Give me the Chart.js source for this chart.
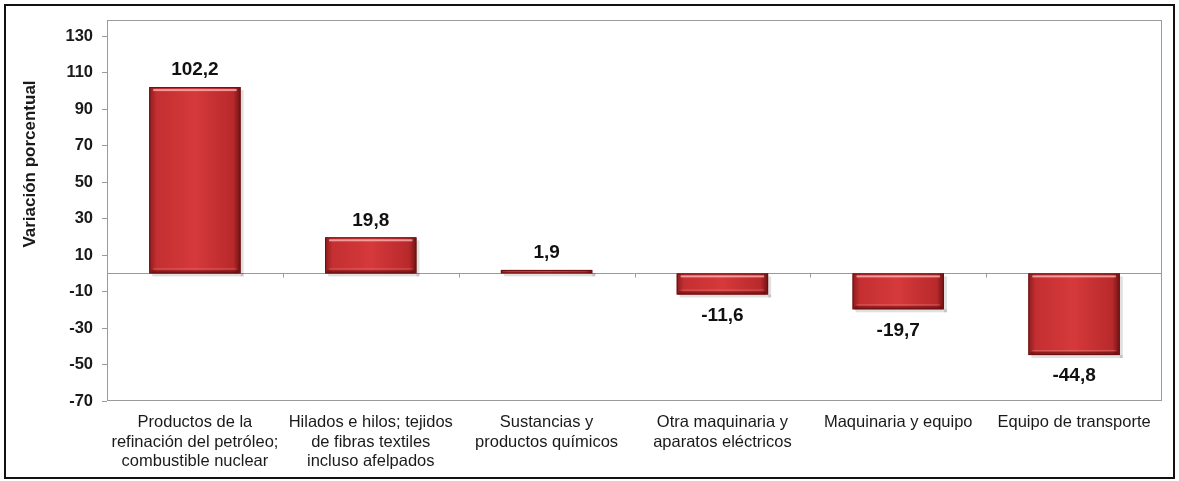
<!DOCTYPE html>
<html>
<head>
<meta charset="utf-8">
<script src="https://cdn.jsdelivr.net/npm/chart.js@4.4.0/dist/chart.umd.min.js"></script>
<style>
  html, body { margin:0; padding:0; background:#fff; }
  #wrap { position:relative; width:1179px; height:481px; }
  #frame { position:absolute; left:4px; top:4px; width:1167px; height:471px; border:2px solid #111; pointer-events:none; }
</style>
</head>
<body>
<div id="wrap">
  <canvas id="chart" width="1179" height="481"></canvas>
  <div id="frame"></div>
</div>
<script>
// Data
const categories = [
  ['Productos de la', 'refinación del petróleo;', 'combustible nuclear'],
  ['Hilados e hilos; tejidos', 'de fibras textiles', 'incluso afelpados'],
  ['Sustancias y', 'productos químicos'],
  ['Otra maquinaria y', 'aparatos eléctricos'],
  ['Maquinaria y equipo'],
  ['Equipo de transporte']
];
const values = [102.2, 19.8, 1.9, -11.6, -19.7, -44.8];
const yTicks = [-70, -50, -30, -10, 10, 30, 50, 70, 90, 110, 130];
const yTitle = 'Variación porcentual';

const fmt = v => v.toFixed(1).replace('.', ',');
const FONT = "'Liberation Sans', Arial, sans-serif";

// plot frame, zero line with category ticks, y title
const framePlugin = {
  id: 'frame',
  afterDatasetsDraw(chart) {
    const {ctx, chartArea:a, scales:{x, y}} = chart;
    ctx.save();
    ctx.strokeStyle = '#9a9a9a';
    ctx.lineWidth = 1;
    ctx.strokeRect(a.left + 0.5, a.top + 0.5, a.right - a.left - 1, a.bottom - a.top - 1);
    const y0 = Math.round(y.getPixelForValue(0)) + 0.5;
    ctx.beginPath();
    ctx.moveTo(a.left, y0); ctx.lineTo(a.right, y0);
    for (let i = 1; i < categories.length; i++) {
      const px = Math.round((x.getPixelForValue(i - 1) + x.getPixelForValue(i)) / 2) + 0.5;
      ctx.moveTo(px, y0); ctx.lineTo(px, y0 + 4);
    }
    ctx.stroke();
    // axis title, sitting a bit above the middle like the original
    ctx.translate(30, y.getPixelForValue(60));
    ctx.rotate(-Math.PI / 2);
    ctx.fillStyle = '#1a1a1a';
    ctx.font = 'bold 17px ' + FONT;
    ctx.textAlign = 'center';
    ctx.textBaseline = 'middle';
    ctx.fillText(yTitle, 0, 0);
    ctx.restore();
  }
};

// bevel look on bars and value labels
const barStyle = {
  id: 'barStyle',
  afterDatasetsDraw(chart) {
    const ctx = chart.ctx;
    const meta = chart.getDatasetMeta(0);
    meta.data.forEach((bar, i) => {
      const {x, y, base, width} = bar.getProps(['x', 'y', 'base', 'width'], true);
      const l = x - width / 2, r = x + width / 2;
      const top = Math.min(y, base), bot = Math.max(y, base);
      const h = bot - top;
      ctx.save();
      // soft shadow
      ctx.fillStyle = 'rgba(0,0,0,0.12)';
      ctx.fillRect(r, top + 3, 3, h);
      ctx.fillRect(l + 3, bot, width, 3);
      // body gradient
      const g = ctx.createLinearGradient(l, 0, r, 0);
      g.addColorStop(0, '#8c1c1e');
      g.addColorStop(0.08, '#c42f31');
      g.addColorStop(0.5, '#d5393b');
      g.addColorStop(0.92, '#b8292b');
      g.addColorStop(1, '#6e1213');
      ctx.fillStyle = g;
      ctx.fillRect(l, top, width, h);
      if (h > 6) {
        ctx.fillStyle = 'rgba(255,190,190,0.75)';
        ctx.fillRect(l + 4, top + 2, width - 8, 2);
        ctx.fillStyle = 'rgba(90,10,10,0.55)';
        ctx.fillRect(l + 2, bot - 3, width - 4, 3);
        ctx.fillStyle = 'rgba(255,170,170,0.35)';
        ctx.fillRect(l + 4, bot - 5, width - 8, 1);
      }
      ctx.strokeStyle = '#6a1010';
      ctx.lineWidth = 1;
      ctx.strokeRect(l + 0.5, top + 0.5, width - 1, h - 1);
      // value label
      const v = values[i];
      ctx.fillStyle = '#111';
      ctx.font = 'bold 19px ' + FONT;
      ctx.textAlign = 'center';
      ctx.textBaseline = 'middle';
      ctx.fillText(fmt(v), x, v >= 0 ? top - 17 : bot + 21);
      ctx.restore();
    });
  }
};

new Chart(document.getElementById('chart'), {
  type: 'bar',
  data: {
    labels: categories,
    datasets: [{
      data: values,
      backgroundColor: 'rgba(0,0,0,0)',
      borderWidth: 0,
      barPercentage: 0.52,
      categoryPercentage: 1
    }]
  },
  options: {
    responsive: false,
    animation: false,
    layout: { padding: { top: 20, right: 17, left: 0, bottom: 0 } },
    plugins: { legend: { display: false }, tooltip: { enabled: false } },
    scales: {
      x: {
        grid: { display: false },
        border: { display: false },
        ticks: {
          color: '#1a1a1a',
          font: { family: FONT, size: 16.5, lineHeight: 1.18 },
          maxRotation: 0,
          autoSkip: false,
          padding: 4
        },
        afterFit(scale) { scale.height = 80; }
      },
      y: {
        min: -70,
        max: 139,
        afterBuildTicks(scale) { scale.ticks = yTicks.map(v => ({ value: v })); },
        grid: {
          drawOnChartArea: false,
          tickColor: '#9a9a9a',
          tickLength: 5
        },
        border: { display: false },
        ticks: {
          color: '#1a1a1a',
          font: { family: FONT, size: 16.5, weight: 'bold' },
          padding: 9
        },
        afterFit(scale) { scale.width = 107; }
      }
    }
  },
  plugins: [framePlugin, barStyle]
});
</script>
</body>
</html>
